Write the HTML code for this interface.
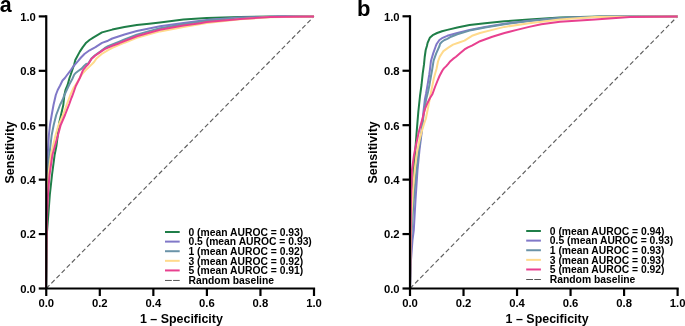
<!DOCTYPE html>
<html><head><meta charset="utf-8"><style>
html,body{margin:0;padding:0;background:#fff;width:685px;height:326px;overflow:hidden}
svg{display:block;will-change:transform}
text{font-family:"Liberation Sans", sans-serif;font-weight:bold;fill:#000}
.tk{font-size:11.3px}
.at{font-size:12.45px}
.lg{font-size:10.33px}
.pl{font-size:22px}
</style></head><body>
<svg width="685" height="326" viewBox="0 0 685 326">
<line x1="46.25" y1="288.5" x2="314" y2="16.4" stroke="#5e5e5e" stroke-width="1.15" stroke-dasharray="4.6 2.7"/>
<polyline points="46.0,288.5 46.4,250.0 47.0,232.0 48.3,215.0 49.8,195.0 52.0,175.0 54.6,155.0 56.4,146.0 57.8,135.0 59.2,123.0 61.0,115.0 63.3,105.0 64.4,95.0 65.5,90.0 67.6,85.0 69.5,78.0 70.6,75.0 72.8,68.4 74.2,64.5 75.3,60.0 79.8,51.6 82.8,47.1 86.2,42.7 89.5,40.0 93.6,37.3 102.0,32.4 112.3,29.6 124.5,26.9 136.8,25.0 149.1,23.7 160.0,22.4 183.4,19.6 206.7,18.0 240.0,17.0 270.0,16.6 314.0,16.4" fill="none" stroke="#1f7e48" stroke-width="2.0" stroke-linejoin="round" stroke-linecap="butt"/>
<polyline points="46.0,288.5 46.3,250.0 46.7,200.0 47.2,170.0 47.7,155.0 48.9,135.0 50.0,125.0 51.7,115.0 53.5,105.0 55.8,95.0 57.7,90.0 60.1,85.5 62.5,80.5 64.9,78.0 66.7,75.5 71.0,69.8 73.4,66.3 78.4,60.6 81.0,57.5 84.7,53.7 89.6,50.3 95.5,47.1 102.0,42.9 108.0,40.7 112.3,38.5 124.5,34.5 136.8,31.0 149.1,28.5 160.0,26.2 183.4,22.9 206.7,19.9 240.0,17.6 280.0,16.6 314.0,16.4" fill="none" stroke="#8078c8" stroke-width="2.0" stroke-linejoin="round" stroke-linecap="butt"/>
<polyline points="46.0,288.5 46.5,240.0 47.0,200.0 47.5,175.0 48.1,165.0 49.3,155.0 51.7,135.0 53.7,125.0 56.2,115.0 60.0,105.0 62.5,100.0 64.0,96.0 65.8,92.1 69.3,84.5 72.3,79.0 74.2,74.7 76.0,72.7 77.9,71.2 81.6,68.6 84.0,66.0 86.2,64.0 88.4,63.4 91.4,58.6 95.0,55.3 100.2,51.6 104.6,48.2 108.0,46.2 119.3,41.6 124.5,39.4 136.8,34.7 149.1,31.1 160.0,28.3 183.4,24.2 206.7,20.7 240.0,18.0 280.0,16.8 314.0,16.4" fill="none" stroke="#6a93a8" stroke-width="2.0" stroke-linejoin="round" stroke-linecap="butt"/>
<polyline points="46.0,288.5 46.5,240.0 47.3,200.0 48.4,175.0 50.9,155.0 55.6,135.0 58.6,125.0 63.0,115.0 67.0,104.0 69.2,98.0 70.3,95.0 73.3,88.4 75.5,85.0 78.0,81.0 80.3,77.0 83.0,73.0 85.3,70.6 89.7,66.4 94.1,62.0 96.5,58.4 101.7,54.0 108.0,50.1 112.3,47.8 119.3,44.9 124.5,42.7 136.8,37.9 149.1,34.3 160.0,31.4 183.4,27.0 206.7,23.0 240.0,19.2 270.0,17.2 314.0,16.4" fill="none" stroke="#ffda8c" stroke-width="2.0" stroke-linejoin="round" stroke-linecap="butt"/>
<polyline points="46.0,288.5 46.5,240.0 47.0,215.0 48.0,195.0 49.5,175.0 52.4,155.0 55.2,145.0 58.0,135.0 60.7,125.0 65.0,115.0 69.3,104.0 71.4,98.0 72.3,96.0 75.8,86.0 79.8,78.0 83.0,70.1 86.7,65.7 88.4,64.0 91.4,59.1 95.0,55.8 100.2,52.1 104.6,49.2 108.0,47.6 112.3,45.8 119.3,43.2 124.5,41.0 136.8,36.3 149.1,32.7 160.0,29.8 183.4,25.6 200.0,23.2 206.7,22.1 235.0,19.4 240.0,19.0 270.0,16.9 314.0,16.4" fill="none" stroke="#e8408f" stroke-width="2.0" stroke-linejoin="round" stroke-linecap="butt"/>
<path d="M46.25 16.4V288.5H314" fill="none" stroke="#000" stroke-width="2.2" stroke-linecap="square"/>
<line x1="38.75" y1="288.50" x2="46.25" y2="288.50" stroke="#000" stroke-width="2.2"/>
<line x1="46.25" y1="288.5" x2="46.25" y2="296.0" stroke="#000" stroke-width="2.2"/>
<text x="35.85" y="292.90" text-anchor="end" class="tk">0.0</text>
<text x="46.25" y="306.8" text-anchor="middle" class="tk">0.0</text>
<line x1="38.75" y1="234.08" x2="46.25" y2="234.08" stroke="#000" stroke-width="2.2"/>
<line x1="99.80" y1="288.5" x2="99.80" y2="296.0" stroke="#000" stroke-width="2.2"/>
<text x="35.85" y="238.48" text-anchor="end" class="tk">0.2</text>
<text x="99.80" y="306.8" text-anchor="middle" class="tk">0.2</text>
<line x1="38.75" y1="179.66" x2="46.25" y2="179.66" stroke="#000" stroke-width="2.2"/>
<line x1="153.35" y1="288.5" x2="153.35" y2="296.0" stroke="#000" stroke-width="2.2"/>
<text x="35.85" y="184.06" text-anchor="end" class="tk">0.4</text>
<text x="153.35" y="306.8" text-anchor="middle" class="tk">0.4</text>
<line x1="38.75" y1="125.24" x2="46.25" y2="125.24" stroke="#000" stroke-width="2.2"/>
<line x1="206.90" y1="288.5" x2="206.90" y2="296.0" stroke="#000" stroke-width="2.2"/>
<text x="35.85" y="129.64" text-anchor="end" class="tk">0.6</text>
<text x="206.90" y="306.8" text-anchor="middle" class="tk">0.6</text>
<line x1="38.75" y1="70.82" x2="46.25" y2="70.82" stroke="#000" stroke-width="2.2"/>
<line x1="260.45" y1="288.5" x2="260.45" y2="296.0" stroke="#000" stroke-width="2.2"/>
<text x="35.85" y="75.22" text-anchor="end" class="tk">0.8</text>
<text x="260.45" y="306.8" text-anchor="middle" class="tk">0.8</text>
<line x1="38.75" y1="16.40" x2="46.25" y2="16.40" stroke="#000" stroke-width="2.2"/>
<line x1="314.00" y1="288.5" x2="314.00" y2="296.0" stroke="#000" stroke-width="2.2"/>
<text x="35.85" y="20.80" text-anchor="end" class="tk">1.0</text>
<text x="314.00" y="306.8" text-anchor="middle" class="tk">1.0</text>
<text transform="translate(13.649999999999999,152.4) rotate(-90)" text-anchor="middle" class="at">Sensitivity</text>
<text x="181.4" y="323.3" text-anchor="middle" class="at">1 – Specificity</text>
<line x1="165" y1="232.00" x2="179.7" y2="232.00" stroke="#1f7e48" stroke-width="2"/>
<text x="188.5" y="235.80" class="lg">0 (mean AUROC = 0.93)</text>
<line x1="165" y1="241.61" x2="179.7" y2="241.61" stroke="#8078c8" stroke-width="2"/>
<text x="188.5" y="245.41" class="lg">0.5 (mean AUROC = 0.93)</text>
<line x1="165" y1="251.22" x2="179.7" y2="251.22" stroke="#6a93a8" stroke-width="2"/>
<text x="188.5" y="255.02" class="lg">1 (mean AUROC = 0.92)</text>
<line x1="165" y1="260.83" x2="179.7" y2="260.83" stroke="#ffda8c" stroke-width="2"/>
<text x="188.5" y="264.63" class="lg">3 (mean AUROC = 0.92)</text>
<line x1="165" y1="270.44" x2="179.7" y2="270.44" stroke="#e8408f" stroke-width="2"/>
<text x="188.5" y="274.24" class="lg">5 (mean AUROC = 0.91)</text>
<line x1="165" y1="280.45" x2="179.7" y2="280.45" stroke="#555" stroke-width="1" stroke-dasharray="6.8 1.3"/>
<text x="188.5" y="283.85" class="lg">Random baseline</text>
<line x1="410" y1="288.5" x2="677.6" y2="16.3" stroke="#5e5e5e" stroke-width="1.15" stroke-dasharray="4.6 2.7"/>
<polyline points="410.0,288.5 410.5,250.0 411.5,215.0 413.0,185.0 414.5,160.0 415.3,150.0 416.5,134.0 418.3,112.0 420.0,96.0 421.5,85.0 422.7,73.6 424.0,64.4 424.7,57.0 425.7,50.0 426.9,46.0 427.6,42.9 429.8,37.8 432.7,35.2 437.1,33.0 442.0,31.2 447.3,29.9 457.3,27.5 469.5,25.0 485.0,23.2 504.5,21.3 529.1,19.5 560.0,17.6 600.0,16.6 677.6,16.4" fill="none" stroke="#1f7e48" stroke-width="2.0" stroke-linejoin="round" stroke-linecap="butt"/>
<polyline points="410.0,288.5 411.0,260.0 412.5,240.0 413.8,230.0 415.5,200.0 417.5,170.0 419.5,150.0 422.0,130.0 423.4,112.0 424.8,100.0 426.0,94.0 427.6,84.7 429.2,75.0 429.9,70.0 431.0,60.7 433.2,53.4 435.8,46.0 436.8,43.7 439.4,40.0 442.0,38.2 447.3,35.8 457.3,33.0 469.5,29.9 485.0,26.9 504.5,23.8 529.1,20.7 560.0,17.9 600.0,16.8 677.6,16.4" fill="none" stroke="#8078c8" stroke-width="2.0" stroke-linejoin="round" stroke-linecap="butt"/>
<polyline points="410.0,288.5 410.5,260.0 411.5,235.0 413.0,210.0 415.0,185.0 417.0,165.0 419.5,145.0 422.0,128.0 424.0,112.0 426.0,100.0 428.0,92.0 429.5,84.7 431.0,76.0 432.1,70.0 433.6,60.7 436.2,53.4 439.5,46.0 440.1,43.7 442.0,41.8 444.5,40.0 447.3,38.8 451.1,36.7 457.3,34.2 469.5,30.6 485.0,27.5 504.5,24.2 529.1,20.9 560.0,18.0 600.0,16.8 677.6,16.4" fill="none" stroke="#6a93a8" stroke-width="2.0" stroke-linejoin="round" stroke-linecap="butt"/>
<polyline points="410.0,288.5 410.5,250.0 411.5,215.0 413.0,190.0 414.7,170.0 417.0,152.0 419.5,140.0 421.6,132.0 424.0,124.0 425.9,118.5 428.0,108.0 430.7,94.0 432.3,86.0 433.8,78.5 435.3,73.0 436.5,69.0 438.0,61.5 439.8,56.6 441.5,54.0 443.4,51.1 448.3,47.6 453.0,44.6 458.4,42.8 464.5,40.6 468.0,38.4 472.0,35.8 480.0,33.0 492.3,29.9 504.5,26.9 529.1,23.2 560.0,19.4 595.0,17.1 677.6,16.4" fill="none" stroke="#ffda8c" stroke-width="2.0" stroke-linejoin="round" stroke-linecap="butt"/>
<polyline points="410.0,288.5 410.3,250.0 411.0,200.0 412.0,170.0 414.0,155.0 416.0,145.0 418.8,132.0 421.0,124.0 423.4,115.0 425.0,109.0 427.1,103.8 430.0,98.0 432.5,94.0 435.0,87.0 437.4,81.0 439.5,76.0 442.4,70.5 443.9,68.4 446.0,66.4 448.0,64.1 449.8,61.8 453.0,58.9 456.0,56.8 460.0,53.3 464.5,49.4 468.0,47.3 471.9,45.6 476.0,43.3 480.0,41.2 492.3,36.7 504.5,33.0 516.8,29.9 529.1,26.9 541.3,24.2 560.0,21.8 595.0,19.6 630.0,16.9 677.6,16.4" fill="none" stroke="#e8408f" stroke-width="2.0" stroke-linejoin="round" stroke-linecap="butt"/>
<path d="M410 16.3V288.5H677.6" fill="none" stroke="#000" stroke-width="2.2" stroke-linecap="square"/>
<line x1="402.5" y1="288.50" x2="410" y2="288.50" stroke="#000" stroke-width="2.2"/>
<line x1="410.00" y1="288.5" x2="410.00" y2="296.0" stroke="#000" stroke-width="2.2"/>
<text x="399.6" y="292.90" text-anchor="end" class="tk">0.0</text>
<text x="410.00" y="306.8" text-anchor="middle" class="tk">0.0</text>
<line x1="402.5" y1="234.06" x2="410" y2="234.06" stroke="#000" stroke-width="2.2"/>
<line x1="463.52" y1="288.5" x2="463.52" y2="296.0" stroke="#000" stroke-width="2.2"/>
<text x="399.6" y="238.46" text-anchor="end" class="tk">0.2</text>
<text x="463.52" y="306.8" text-anchor="middle" class="tk">0.2</text>
<line x1="402.5" y1="179.62" x2="410" y2="179.62" stroke="#000" stroke-width="2.2"/>
<line x1="517.04" y1="288.5" x2="517.04" y2="296.0" stroke="#000" stroke-width="2.2"/>
<text x="399.6" y="184.02" text-anchor="end" class="tk">0.4</text>
<text x="517.04" y="306.8" text-anchor="middle" class="tk">0.4</text>
<line x1="402.5" y1="125.18" x2="410" y2="125.18" stroke="#000" stroke-width="2.2"/>
<line x1="570.56" y1="288.5" x2="570.56" y2="296.0" stroke="#000" stroke-width="2.2"/>
<text x="399.6" y="129.58" text-anchor="end" class="tk">0.6</text>
<text x="570.56" y="306.8" text-anchor="middle" class="tk">0.6</text>
<line x1="402.5" y1="70.74" x2="410" y2="70.74" stroke="#000" stroke-width="2.2"/>
<line x1="624.08" y1="288.5" x2="624.08" y2="296.0" stroke="#000" stroke-width="2.2"/>
<text x="399.6" y="75.14" text-anchor="end" class="tk">0.8</text>
<text x="624.08" y="306.8" text-anchor="middle" class="tk">0.8</text>
<line x1="402.5" y1="16.30" x2="410" y2="16.30" stroke="#000" stroke-width="2.2"/>
<line x1="677.60" y1="288.5" x2="677.60" y2="296.0" stroke="#000" stroke-width="2.2"/>
<text x="399.6" y="20.70" text-anchor="end" class="tk">1.0</text>
<text x="677.60" y="306.8" text-anchor="middle" class="tk">1.0</text>
<text transform="translate(377.4,152.4) rotate(-90)" text-anchor="middle" class="at">Sensitivity</text>
<text x="547.1" y="323.3" text-anchor="middle" class="at">1 – Specificity</text>
<line x1="526.2" y1="231.00" x2="540.9000000000001" y2="231.00" stroke="#1f7e48" stroke-width="2"/>
<text x="549.8" y="234.80" class="lg">0 (mean AUROC = 0.94)</text>
<line x1="526.2" y1="240.62" x2="540.9000000000001" y2="240.62" stroke="#8078c8" stroke-width="2"/>
<text x="549.8" y="244.42" class="lg">0.5 (mean AUROC = 0.93)</text>
<line x1="526.2" y1="250.24" x2="540.9000000000001" y2="250.24" stroke="#6a93a8" stroke-width="2"/>
<text x="549.8" y="254.04" class="lg">1 (mean AUROC = 0.93)</text>
<line x1="526.2" y1="259.86" x2="540.9000000000001" y2="259.86" stroke="#ffda8c" stroke-width="2"/>
<text x="549.8" y="263.66" class="lg">3 (mean AUROC = 0.93)</text>
<line x1="526.2" y1="269.48" x2="540.9000000000001" y2="269.48" stroke="#e8408f" stroke-width="2"/>
<text x="549.8" y="273.28" class="lg">5 (mean AUROC = 0.92)</text>
<line x1="526.2" y1="279.50" x2="540.9000000000001" y2="279.50" stroke="#555" stroke-width="1" stroke-dasharray="6.8 1.3"/>
<text x="549.8" y="282.90" class="lg">Random baseline</text>
<text x="-0.3" y="11.7" class="pl" style="font-size:21.4px">a</text>
<text x="357" y="16" class="pl">b</text>
</svg>
</body></html>
